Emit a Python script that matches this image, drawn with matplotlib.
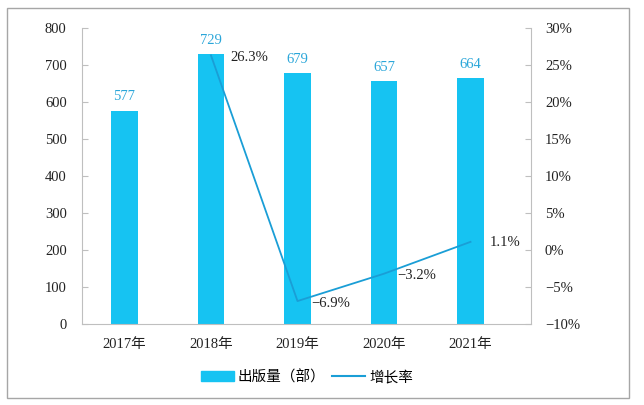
import matplotlib
matplotlib.use("Agg")
import matplotlib.pyplot as plt
import matplotlib.patches as mpatches
from matplotlib.lines import Line2D
from matplotlib.ticker import FuncFormatter

plt.rcParams['font.family'] = ['Liberation Serif', 'Noto Sans CJK SC']
plt.rcParams['axes.unicode_minus'] = True

years = ["2017年", "2018年", "2019年", "2020年", "2021年"]
output = [577, 729, 679, 657, 664]
growth_years = [1, 2, 3, 4]
growth = [26.3, -6.9, -3.2, 1.1]
growth_labels = ["26.3%", "\u22126.9%", "\u22123.2%", "1.1%"]

bar_color = "#16C3F2"
line_color = "#1A9ED6"
label_color = "#2AA6D9"
gray = "#BFBFBF"

fig = plt.figure(figsize=(6.44, 4.05), dpi=100)
ax = fig.add_axes([82 / 644, 1 - 324 / 405, (531 - 82) / 644, (324 - 28) / 405])
x = list(range(len(years)))
ax.bar(x, output, width=0.31, color=bar_color, zorder=2)
for xi, v in zip(x, output):
    ax.text(xi, v + 37, str(v), ha="center", va="center", color=label_color, fontsize=10.5)

ax.set_xlim(-0.491, 4.699)
ax.set_ylim(0, 800)
ax.set_yticks(range(0, 801, 100))
ax.set_xticks(x)
ax.set_xticklabels(years)
ax.tick_params(axis="x", length=0, pad=10, labelsize=10.5, colors="#222222")
ax.tick_params(axis="y", direction="in", length=4, color=gray, labelsize=10.5,
               labelcolor="#222222", pad=11)
for s in ["top", "right"]:
    ax.spines[s].set_visible(False)
for s in ["left", "bottom"]:
    ax.spines[s].set_color(gray)

ax2 = ax.twinx()
ax2.plot(growth_years, growth, color=line_color, lw=1.3, zorder=3)
ax2.set_ylim(-10, 30)
ax2.set_yticks(range(-10, 31, 5))
ax2.yaxis.set_major_formatter(FuncFormatter(lambda v, p: ("\u2212%d%%" % -v) if v < 0 else "%d%%" % v))
ax2.tick_params(axis="y", direction="in", length=4, color=gray, labelsize=10.5,
                labelcolor="#222222", pad=10)
for s in ["top", "left", "bottom"]:
    ax2.spines[s].set_visible(False)
ax2.spines["right"].set_color(gray)

offsets = [(0.22, -0.3), (0.16, -0.3), (0.15, -0.2), (0.22, -0.15)]
for gx, gv, gl, (dx, dy) in zip(growth_years, growth, growth_labels, offsets):
    ax2.text(gx + dx, gv + dy, gl, ha="left", va="center", fontsize=10.5, color="#222222")

handles = [mpatches.Patch(color=bar_color), Line2D([], [], color=line_color, lw=1.5)]
fig.legend(handles, ["出版量（部）", "增长率"], loc="center", bbox_to_anchor=(307 / 644, 1 - 377 / 405),
           ncol=2, frameon=False, fontsize=10.5, handlelength=2.25, handleheight=0.7,
           columnspacing=0.45, handletextpad=0.3)

fig.patches.append(mpatches.Rectangle((7 / 644, 1 - 398 / 405), 622 / 644, 390 / 405,
                                      transform=fig.transFigure, fill=False,
                                      edgecolor="#A6A6A6", lw=1))
fig.savefig("out.png", dpi=100)
